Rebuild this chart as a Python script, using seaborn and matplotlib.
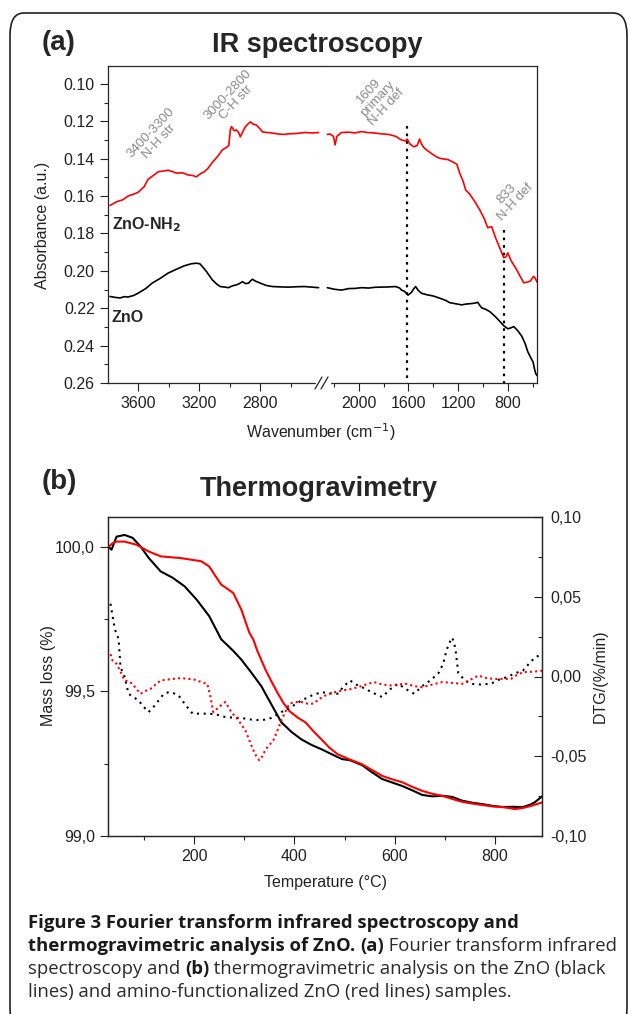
"""
FTIR + TGA figure (ZnO vs ZnO-NH2)
"""
import matplotlib
matplotlib.use("Agg")
import matplotlib.pyplot as plt
import seaborn as sns
from matplotlib.ticker import FixedLocator, MultipleLocator, FuncFormatter
from matplotlib.lines import Line2D
from matplotlib.patches import FancyBboxPatch

# ---------- IR data (left segment: 3800-2400, right segment: 2300-565) ----------
nh2_wn_left = [3784, 3740, 3700, 3666, 3630, 3600, 3560, 3534, 3500, 3468, 3429, 3400, 3370,
               3350, 3310, 3271, 3240, 3218, 3190, 3166, 3140, 3113, 3080, 3047, 3021, 3005,
               2995, 2987, 2970, 2955, 2940, 2929, 2910, 2897, 2880, 2863, 2845, 2824, 2800,
               2784, 2750, 2718, 2680, 2640, 2613, 2560, 2508, 2460, 2416]
nh2_abs_left = [0.165, 0.163, 0.162, 0.160, 0.159, 0.158, 0.155, 0.151, 0.149, 0.147, 0.1465, 0.1462, 0.147,
                0.1477, 0.1475, 0.1487, 0.149, 0.1497, 0.148, 0.147, 0.145, 0.142, 0.139, 0.1353, 0.134, 0.133,
                0.1246, 0.1228, 0.125, 0.1246, 0.126, 0.1283, 0.125, 0.123, 0.1215, 0.1203, 0.1215, 0.122, 0.124,
                0.1257, 0.126, 0.1263, 0.1268, 0.127, 0.1267, 0.1265, 0.126, 0.1262, 0.126]
nh2_wn_right = [2252, 2230, 2203, 2190, 2175, 2139, 2080, 2030, 1977, 1930, 1880, 1816, 1760, 1703,
                1655, 1620, 1609, 1590, 1558, 1530, 1510, 1495, 1477, 1440, 1397, 1360, 1332, 1280,
                1235, 1210, 1187, 1160, 1139, 1106, 1070, 1026, 990, 961, 945, 929, 900, 865, 845,
                832, 815, 800, 770, 736, 700, 671, 640, 616, 600, 590, 575, 565]
nh2_abs_right = [0.127, 0.1268, 0.128, 0.1326, 0.128, 0.126, 0.1258, 0.1262, 0.1255, 0.126, 0.1262, 0.1267, 0.127, 0.128,
                 0.130, 0.1305, 0.1295, 0.132, 0.1336, 0.133, 0.1295, 0.132, 0.134, 0.136, 0.138, 0.1395, 0.140, 0.1405,
                 0.142, 0.143, 0.1477, 0.152, 0.1567, 0.159, 0.1625, 0.1673, 0.172, 0.177, 0.1765, 0.1765, 0.182, 0.1877, 0.191,
                 0.193, 0.1925, 0.1904, 0.195, 0.1985, 0.203, 0.2064, 0.206, 0.2053, 0.2035, 0.203, 0.2045, 0.206]

zno_wn_left = [3784, 3750, 3718, 3690, 3666, 3630, 3600, 3550, 3508, 3450, 3403, 3350, 3297, 3250,
               3218, 3195, 3179, 3150, 3113, 3085, 3061, 3030, 3008, 2980, 2955, 2935, 2916, 2895,
               2876, 2860, 2850, 2830, 2797, 2760, 2718, 2660, 2613, 2560, 2508, 2460, 2416]
zno_abs_left = [0.2137, 0.2142, 0.2145, 0.2138, 0.214, 0.2132, 0.212, 0.2095, 0.2066, 0.2038, 0.2012, 0.1992, 0.1973, 0.1962,
                0.1959, 0.1962, 0.1976, 0.2005, 0.2048, 0.207, 0.2084, 0.2087, 0.209, 0.208, 0.2075, 0.2068, 0.2058, 0.2068,
                0.2066, 0.2052, 0.2045, 0.2055, 0.2066, 0.2078, 0.2084, 0.2086, 0.2087, 0.2085, 0.2084, 0.2087, 0.209]
zno_wn_right = [2252, 2200, 2139, 2080, 2030, 1977, 1920, 1870, 1816, 1760, 1703, 1670, 1655, 1630,
                1603, 1575, 1556, 1542, 1520, 1494, 1450, 1397, 1340, 1300, 1268, 1220, 1171, 1140,
                1106, 1080, 1055, 1042, 1025, 1010, 980, 945, 900, 865, 830, 800, 775, 752, 720,
                687, 660, 639, 615, 597, 585, 575, 565]
zno_abs_right = [0.209, 0.2098, 0.2103, 0.2095, 0.2094, 0.209, 0.2092, 0.2088, 0.2087, 0.2086, 0.2084, 0.2092, 0.2103, 0.211,
                 0.213, 0.2115, 0.2095, 0.2084, 0.2105, 0.212, 0.2128, 0.2135, 0.2148, 0.2158, 0.217, 0.2176, 0.2182, 0.2178,
                 0.2176, 0.2174, 0.2171, 0.2168, 0.2185, 0.2198, 0.2205, 0.2218, 0.2245, 0.227, 0.2295, 0.231, 0.2305, 0.2298, 0.232,
                 0.235, 0.239, 0.2433, 0.2465, 0.2487, 0.2525, 0.255, 0.256]

# dotted markers for the NH bands
band_wn = [1609, 833]
band_top = [0.1225, 0.178]

# ---------- TGA / DTG data ----------
tg_temp_zno = [29, 35, 45, 61, 77, 93, 109, 133, 157, 181, 205, 230, 254, 278, 294, 314, 334, 354,
               374, 394, 414, 434, 454, 474, 495, 511, 535, 555, 575, 595, 615, 635, 655, 675,
               695, 715, 735, 755, 776, 796, 816, 836, 856, 870, 880, 896]
tg_mass_zno = [100.0, 99.99, 100.035, 100.041, 100.031, 100.001, 99.962, 99.915, 99.893, 99.863, 99.817, 99.76, 99.68, 99.64, 99.61, 99.565, 99.518, 99.455,
               99.393, 99.36, 99.334, 99.315, 99.30, 99.283, 99.266, 99.262, 99.245, 99.22, 99.197, 99.185, 99.173, 99.158, 99.142, 99.137,
               99.139, 99.135, 99.122, 99.115, 99.11, 99.104, 99.10, 99.101, 99.10, 99.108, 99.117, 99.14]
tg_temp_nh2 = [29, 37, 45, 61, 85, 109, 133, 173, 214, 230, 242, 254, 266, 278, 294, 310, 318, 326,
               342, 354, 366, 378, 390, 406, 422, 438, 454, 470, 486, 510, 535, 555, 575, 595,
               615, 635, 655, 675, 695, 715, 735, 755, 776, 796, 816, 840, 856, 872, 896]
tg_mass_nh2 = [100.0, 100.012, 100.018, 100.018, 100.007, 99.984, 99.967, 99.961, 99.95, 99.932, 99.90, 99.869, 99.855, 99.84, 99.783, 99.703, 99.679, 99.64,
               99.576, 99.535, 99.496, 99.46, 99.432, 99.41, 99.393, 99.362, 99.334, 99.305, 99.283, 99.265, 99.248, 99.228, 99.208, 99.196,
               99.186, 99.17, 99.156, 99.146, 99.139, 99.128, 99.118, 99.112, 99.107, 99.102, 99.10, 99.093, 99.097, 99.104, 99.117]

dtg_temp_zno = [33, 37, 41, 45, 49, 53, 61, 69, 79, 89, 99, 109, 119, 129, 139, 149, 159, 169,
                183, 197, 214, 230, 246, 262, 278, 294, 314, 334, 354, 374, 394, 414, 434, 454,
                470, 486, 499, 511, 523, 535, 555, 575, 591, 607, 623, 639, 655, 671, 687, 697,
                703, 709, 715, 721, 727, 739, 751, 771, 792, 808, 824, 840, 856, 868, 880, 896]
dtg_val_zno = [0.0456, 0.038, 0.031, 0.026, 0.024, 0.0058, 0.0, -0.0108, -0.013, -0.015, -0.019, -0.0223, -0.019, -0.015, -0.011, -0.0098, -0.0105, -0.0119,
               -0.018, -0.0233, -0.0233, -0.0233, -0.024, -0.0254, -0.0258, -0.026, -0.027, -0.0275, -0.026, -0.0223, -0.019, -0.015, -0.012, -0.0098,
               -0.0105, -0.0108, -0.006, -0.0025, -0.005, -0.0067, -0.010, -0.0129, -0.008, -0.0046, -0.008, -0.0108, -0.006, -0.0025, 0.0019, 0.008,
               0.016, 0.021, 0.0244, 0.018, 0.002, -0.002, -0.0046, -0.005, -0.0046, -0.002, -0.0004, 0.002, 0.0037, 0.008, 0.012, 0.0142]
dtg_temp_nh2 = [33, 37, 45, 53, 61, 69, 77, 85, 93, 103, 113, 123, 133, 145, 157, 173, 189, 201,
                214, 226, 232, 238, 250, 262, 268, 274, 286, 294, 302, 310, 318, 324, 330, 336,
                342, 350, 358, 366, 374, 382, 390, 402, 414, 426, 438, 450, 462, 478, 495, 511,
                527, 543, 559, 575, 591, 607, 623, 639, 655, 675, 695, 715, 735, 751, 767, 783,
                799, 815, 832, 844, 856, 876, 896]
dtg_val_nh2 = [0.014, 0.010, 0.008, 0.003, -0.0025, -0.003, -0.0046, -0.008, -0.0108, -0.009, -0.0077, -0.005, -0.0025, -0.002, -0.0015, -0.001, -0.0015, -0.002,
               -0.0035, -0.0046, -0.012, -0.0223, -0.019, -0.016, -0.019, -0.0223, -0.0265, -0.030, -0.0337, -0.040, -0.0462, -0.050, -0.0525, -0.050,
               -0.046, -0.043, -0.040, -0.034, -0.0275, -0.022, -0.017, -0.016, -0.016, -0.017, -0.017, -0.014, -0.0119, -0.010, -0.0088, -0.008,
               -0.0067, -0.005, -0.0035, -0.005, -0.0056, -0.005, -0.0046, -0.006, -0.0067, -0.005, -0.0035, -0.004, -0.0046, -0.002, 0.0006, -0.001,
               -0.0015, -0.0015, -0.0015, 0.001, 0.0027, 0.003, 0.0037]

# ---------- plotting ----------
sns.set_style("ticks")
plt.rcParams['font.family'] = ['Liberation Sans', 'DejaVu Sans']

W, H = 629, 1014
fig = plt.figure(figsize=(W / 100, H / 100), dpi=100)
TICK_FS = 11.5


def fx(px):
    return px / W


def fy(py):
    return 1 - py / H


# outer rounded frame
frame = FancyBboxPatch((fx(10), fy(1030)), fx(617), (1030 - 13) / H,
                       boxstyle="round,pad=0,rounding_size=0.022",
                       transform=fig.transFigure, fill=False, lw=1.2, ec="#222222")
fig.add_artist(frame)

# ---- (a) IR spectroscopy, broken x axis ----
axL = fig.add_axes([fx(108), fy(383), fx(215), 317 / H])
axR = fig.add_axes([fx(323), fy(383), fx(214), 317 / H])

sns.lineplot(x=nh2_wn_left, y=nh2_abs_left, ax=axL, color="red", lw=1.2, sort=False, estimator=None)
sns.lineplot(x=zno_wn_left, y=zno_abs_left, ax=axL, color="black", lw=1.2, sort=False, estimator=None)
sns.lineplot(x=nh2_wn_right, y=nh2_abs_right, ax=axR, color="red", lw=1.2, sort=False, estimator=None)
sns.lineplot(x=zno_wn_right, y=zno_abs_right, ax=axR, color="black", lw=1.2, sort=False, estimator=None)
for wn, top in zip(band_wn, band_top):
    axR.plot([wn, wn], [top, 0.26], ls=(0, (1.2, 2.2)), color="black", lw=1.6, clip_on=False)

for ax in (axL, axR):
    ax.set_ylim(0.26, 0.0904)
    ax.set_xlabel("")
    ax.set_ylabel("")
    ax.tick_params(which="major", direction="out", length=6, width=0.8, labelsize=TICK_FS, colors="#222222")
    ax.tick_params(which="minor", direction="out", length=3, width=0.8)
    for s in ax.spines.values():
        s.set_linewidth(0.9)
axL.set_xlim(3797, 2387)
axR.set_xlim(2287, 565)
axL.spines["right"].set_visible(False)
axR.spines["left"].set_visible(False)
axR.tick_params(which="both", left=False, labelleft=False)
axL.xaxis.set_major_locator(FixedLocator([3600, 3200, 2800]))
axL.xaxis.set_minor_locator(FixedLocator([3400, 3000, 2600]))
axR.xaxis.set_major_locator(FixedLocator([2000, 1600, 1200, 800]))
axR.xaxis.set_minor_locator(FixedLocator([2200, 1800, 1400, 1000, 600]))
axL.yaxis.set_major_locator(MultipleLocator(0.02))
axL.yaxis.set_minor_locator(MultipleLocator(0.01))
axL.yaxis.set_major_formatter(FuncFormatter(lambda v, p: f"{v:.2f}"))

# axis break marks
fig.add_artist(Line2D([fx(317), fx(329)], [fy(383), fy(383)], color="white", lw=2.5,
                      transform=fig.transFigure))
for x0 in (315, 321):
    fig.add_artist(Line2D([fx(x0), fx(x0 + 7)], [fy(389), fy(377)], color="#222222", lw=0.9,
                          transform=fig.transFigure))

fig.text(fx(42), fy(43), "(a)", fontsize=20, fontweight="bold", va="center", ha="left")
fig.text(fx(317), fy(45), "IR spectroscopy", fontsize=19.5, fontweight="bold", va="center", ha="center")
fig.text(fx(42), fy(225), "Absorbance (a.u.)", fontsize=11.5, rotation=90, va="center", ha="center", color="#222222")
fig.text(fx(321), fy(432), "Wavenumber (cm$^{-1}$)", fontsize=11.5, va="center", ha="center", color="#222222")
fig.text(fx(112), fy(225), "ZnO-NH$_\\mathbf{2}$", fontsize=11.5, fontweight="bold", va="center", ha="left")
fig.text(fx(112), fy(318), "ZnO", fontsize=11.5, fontweight="bold", va="center", ha="left")

ann_color = "#8a8a8a"
for txt, px, py in [("3400-3300\nN-H str", 155, 137),
                    ("3000-2800\nC-H str", 232, 99),
                    ("1609\nprimary\nN-H def", 378, 99),
                    ("833\nN-H def", 511, 198)]:
    fig.text(fx(px), fy(py), txt, fontsize=9.5, rotation=47, color=ann_color,
             ha="center", va="center", multialignment="center", linespacing=1.0)

# ---- (b) Thermogravimetry ----
axb = fig.add_axes([fx(108), fy(836), fx(434), 319 / H])
axb2 = axb.twinx()

sns.lineplot(x=tg_temp_zno, y=tg_mass_zno, ax=axb, color="black", lw=1.5, sort=False, estimator=None)
sns.lineplot(x=tg_temp_nh2, y=tg_mass_nh2, ax=axb, color="red", lw=1.5, sort=False, estimator=None)
sns.lineplot(x=dtg_temp_zno, y=dtg_val_zno, ax=axb2, color="black", lw=1.5, sort=False, estimator=None,
             linestyle=(0, (1, 2.2)))
sns.lineplot(x=dtg_temp_nh2, y=dtg_val_nh2, ax=axb2, color="red", lw=1.5, sort=False, estimator=None,
             linestyle=(0, (1, 1.5)))

axb.set_xlim(28, 894)
axb.set_ylim(99.0, 100.103)
axb2.set_ylim(-0.10, 0.10)
for ax in (axb, axb2):
    ax.set_xlabel("")
    ax.set_ylabel("")
    ax.tick_params(which="major", length=6, width=0.8, labelsize=TICK_FS, colors="#222222")
    ax.tick_params(which="minor", length=3, width=0.8)
    for s in ax.spines.values():
        s.set_linewidth(0.9)
axb.tick_params(which="both", direction="out")
axb2.tick_params(which="both", direction="in", pad=6)
axb.xaxis.set_major_locator(MultipleLocator(200))
axb.xaxis.set_minor_locator(MultipleLocator(100))
axb.yaxis.set_major_locator(MultipleLocator(0.5))
axb.yaxis.set_minor_locator(MultipleLocator(0.25))
axb.yaxis.set_major_formatter(FuncFormatter(lambda v, p: f"{v:.1f}".replace(".", ",")))
axb2.yaxis.set_major_locator(MultipleLocator(0.05))
axb2.yaxis.set_minor_locator(MultipleLocator(0.025))
axb2.yaxis.set_major_formatter(
    FuncFormatter(lambda v, p: f"{0.0 if abs(v) < 1e-9 else v:.2f}".replace(".", ",")))

fig.text(fx(42), fy(482), "(b)", fontsize=20, fontweight="bold", va="center", ha="left")
fig.text(fx(319), fy(489), "Thermogravimetry", fontsize=19.5, fontweight="bold", va="center", ha="center")
fig.text(fx(48), fy(676), "Mass loss (%)", fontsize=11.5, rotation=90, va="center", ha="center", color="#222222")
fig.text(fx(600), fy(676), "DTG/(%/min)", fontsize=11.5, rotation=90, va="center", ha="center", color="#222222")
fig.text(fx(325), fy(883), "Temperature (°C)", fontsize=11.5, va="center", ha="center", color="#222222")

# ---- caption with mixed bold / regular runs ----
cap_lines = [
    [("Figure 3 Fourier transform infrared spectroscopy and", "bold")],
    [("thermogravimetric analysis of ZnO. ", "bold"), ("(a)", "bold"), (" Fourier transform infrared", "normal")],
    [("spectroscopy and ", "normal"), ("(b)", "bold"), (" thermogravimetric analysis on the ZnO (black", "normal")],
    [("lines) and amino-functionalized ZnO (red lines) samples.", "normal")],
]
renderer = fig.canvas.get_renderer()
base_y = 928
for i, runs in enumerate(cap_lines):
    x = fx(28)
    for txt, wt in runs:
        t = fig.text(x, fy(base_y + 23 * i), txt, fontsize=13.3, fontweight=wt,
                     family=["Open Sans", "DejaVu Sans"], va="baseline", ha="left",
                     color="#1a1a1a" if wt == "bold" else "#2a2a2a")
        bb = t.get_window_extent(renderer=renderer)
        x += bb.width / fig.bbox.width

fig.savefig("out.png", dpi=100)
plt.close(fig)
